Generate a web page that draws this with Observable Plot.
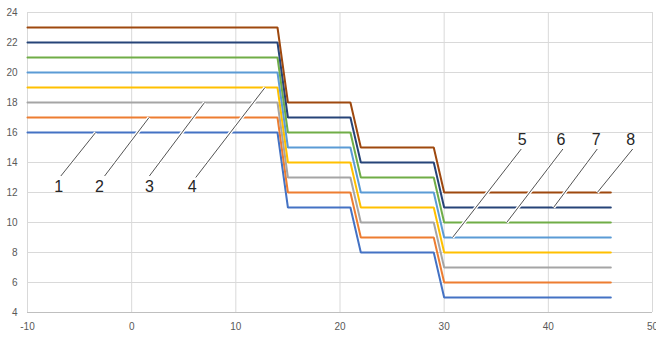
<!DOCTYPE html>
<html>
<head>
<meta charset="utf-8">
<script src="https://cdn.jsdelivr.net/npm/d3@7"></script>
<script src="https://cdn.jsdelivr.net/npm/@observablehq/plot@0.6"></script>
<style>
  html, body { margin: 0; padding: 0; background: #fff; }
  svg { display: block; }
</style>
</head>
<body>
<div id="chart"></div>
<script>
// step x positions shared by all series
const xs = [-10, 14, 15, 21, 22, 29, 30, 46];
const seriesNames = ["1", "2", "3", "4", "5", "6", "7", "8"];
const seriesColors = ["#4472C4", "#ED7D31", "#A5A5A5", "#FFC000", "#5B9BD5", "#70AD47", "#264478", "#9E480E"];
const s1 = [16, 16, 11, 11, 8, 8, 5, 5];
const s2 = [17, 17, 12, 12, 9, 9, 6, 6];
const s3 = [18, 18, 13, 13, 10, 10, 7, 7];
const s4 = [19, 19, 14, 14, 11, 11, 8, 8];
const s5 = [20, 20, 15, 15, 12, 12, 9, 9];
const s6 = [21, 21, 16, 16, 13, 13, 10, 10];
const s7 = [22, 22, 17, 17, 14, 14, 11, 11];
const s8 = [23, 23, 18, 18, 15, 15, 12, 12];
const seriesValues = [s1, s2, s3, s4, s5, s6, s7, s8];

// annotation labels (data coordinates)
const labelX = [-7.0, -3.1, 1.7, 5.8, 37.5, 41.2, 44.6, 47.9];
const labelY = [12.4, 12.4, 12.4, 12.4, 15.5, 15.5, 15.5, 15.5];
const leaderStartX = [-6.8, -2.6, 1.7, 6.15, 37.4, 41.4, 44.7, 48.1];
const leaderStartY = [13.1, 13.1, 13.1, 13.0, 14.9, 14.9, 14.9, 14.9];
const leaderEndX = [-3.46, 1.67, 7.0, 12.8, 30.8, 36.0, 40.5, 44.7];
const leaderEndY = [16, 17, 18, 19, 9, 10, 11, 12];

const xTicks = [-10, 0, 10, 20, 30, 40, 50];
const yTicks = [4, 6, 8, 10, 12, 14, 16, 18, 20, 22, 24];

const rows = [];
seriesNames.forEach((name, i) => {
  xs.forEach((x, j) => rows.push({series: name, x, y: seriesValues[i][j]}));
});
const labels = seriesNames.map((name, i) => ({
  name, tx: labelX[i], ty: labelY[i],
  x1: leaderStartX[i], y1: leaderStartY[i], x2: leaderEndX[i], y2: leaderEndY[i]
}));

const chart = Plot.plot({
  width: 656,
  height: 338,
  marginLeft: 27,
  marginRight: 4,
  marginTop: 12,
  marginBottom: 26,
  style: {fontFamily: "'Liberation Sans', Arial, sans-serif", background: "#fff"},
  x: {domain: [-10, 50], ticks: xTicks},
  y: {domain: [4, 24], ticks: yTicks},
  color: {domain: seriesNames, range: seriesColors},
  marks: [
    Plot.gridX(xTicks, {stroke: "#d9d9d9", strokeOpacity: 1}),
    Plot.gridY(yTicks, {stroke: "#d9d9d9", strokeOpacity: 1}),
    Plot.ruleY([4], {stroke: "#bfbfbf", strokeWidth: 1}),
    Plot.axisX(xTicks, {tickSize: 0, tickPadding: 10, fill: "#595959", fontSize: 10, tickFormat: d => String(d)}),
    Plot.axisY(yTicks, {tickSize: 0, tickPadding: 10, fill: "#595959", fontSize: 10, tickFormat: d => String(d)}),
    Plot.line(rows, {x: "x", y: "y", z: "series", stroke: "series", strokeWidth: 2, strokeLinejoin: "miter", curve: "linear"}),
    Plot.link(labels, {x1: "x1", y1: "y1", x2: "x2", y2: "y2", stroke: "#fff", strokeWidth: 3.5}),
    Plot.link(labels, {x1: "x1", y1: "y1", x2: "x2", y2: "y2", stroke: "#404040", strokeWidth: 0.9}),
    Plot.text(labels, {x: "tx", y: "ty", text: "name", fontSize: 16, fill: "#262626", textAnchor: "middle"})
  ]
});
document.getElementById("chart").appendChild(chart);
</script>
</body>
</html>
